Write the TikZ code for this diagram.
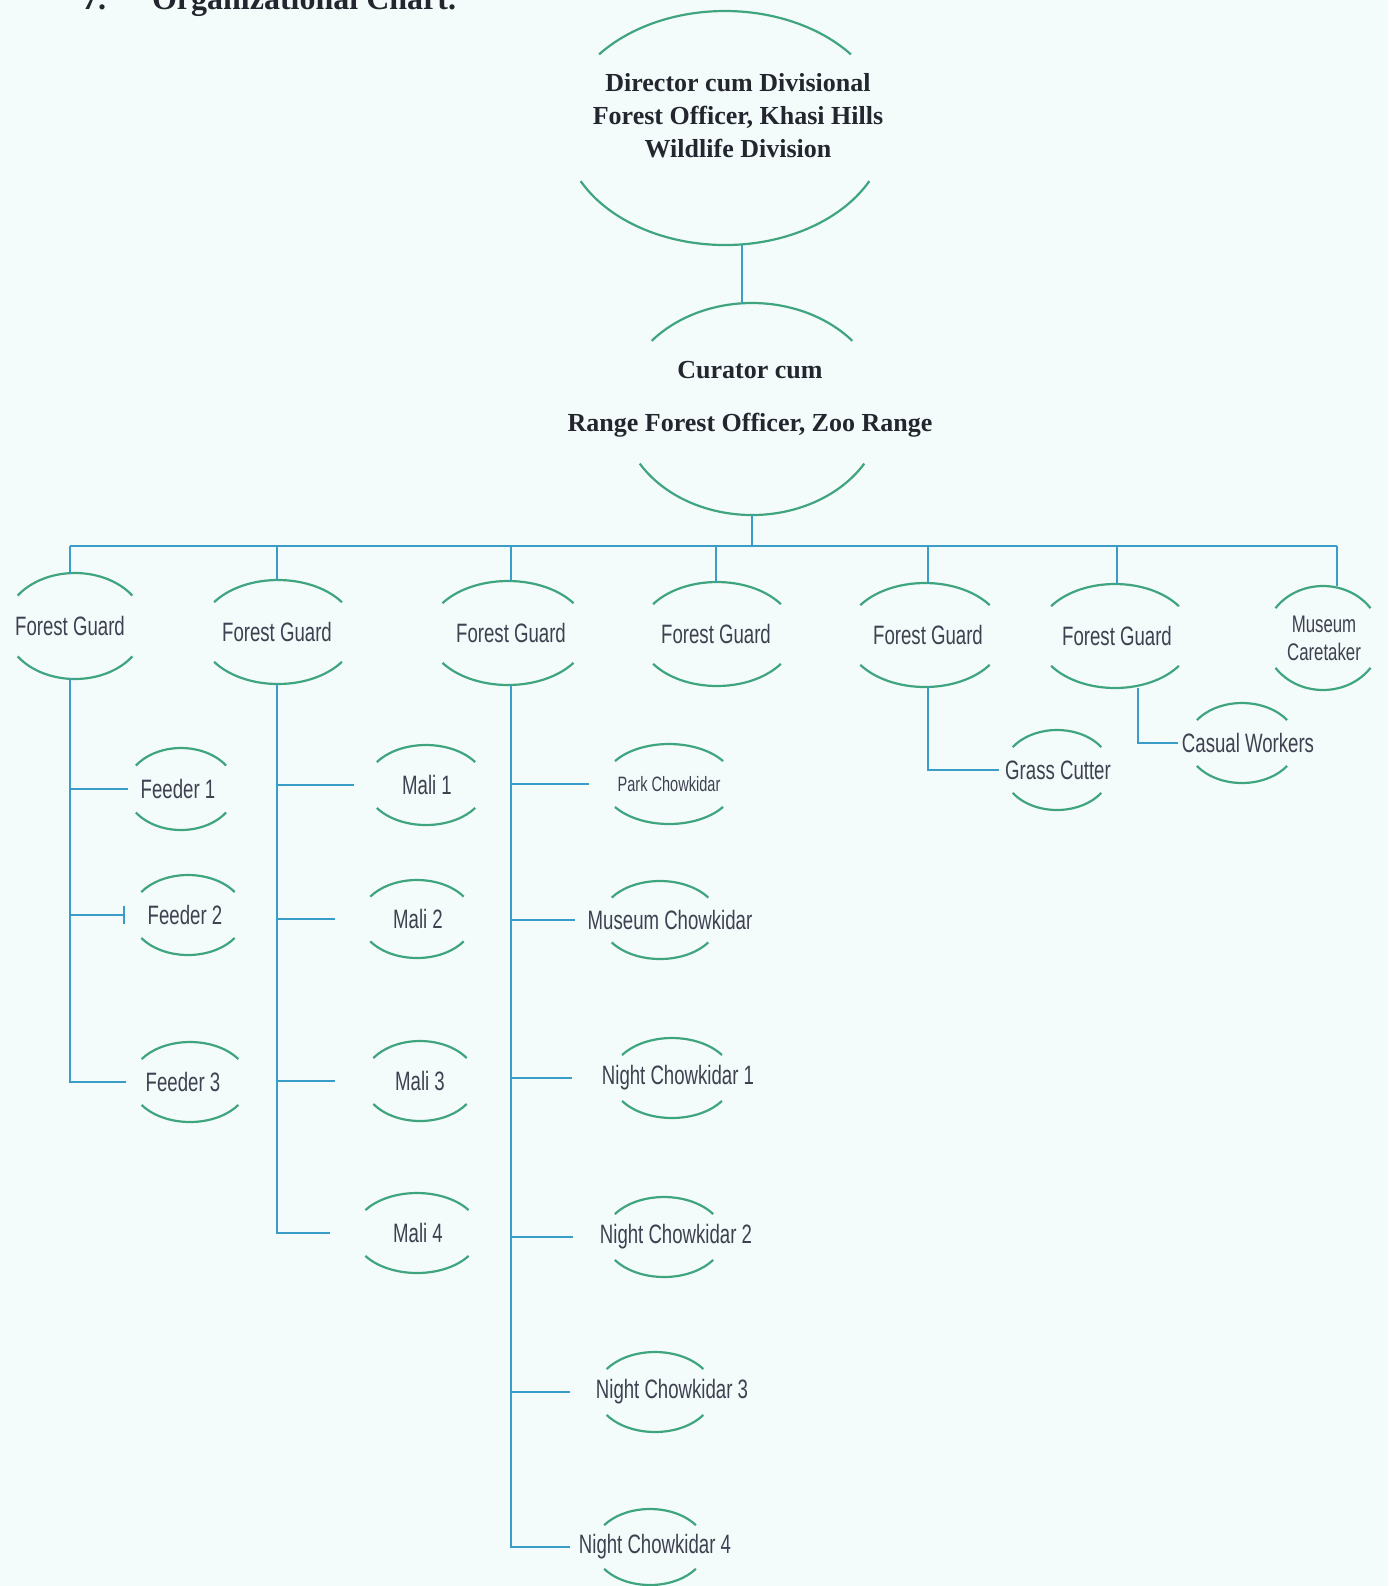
\documentclass[tikz,border=0pt]{standalone}
\usepackage{fontspec}
\setmainfont{Liberation Serif}
\newfontfamily\agency{Liberation Sans}[FakeStretch=0.7]
\usetikzlibrary{arrows.meta}
\definecolor{paper}{HTML}{F4FBFB}
\definecolor{wire}{HTML}{3A9DC8}
\definecolor{rim}{HTML}{3FA57E}
\definecolor{ink}{HTML}{3E4250}
\definecolor{boss}{HTML}{23262F}
\tikzset{
  link/.style={draw=wire, line width=1pt},
  rimline/.style={draw=rim, line width=1.1pt},
  post/.style={inner sep=0pt, minimum height=40pt, text=ink,
    font=\agency\fontsize{13.3}{16}\selectfont},
  guard/.style={post, minimum width=78pt, minimum height=52pt},
  chief/.style={align=center, text=boss, font=\bfseries\fontsize{13}{16.5}\selectfont},
  heading/.style={anchor=base west, text=boss, font=\bfseries\fontsize{16}{19}\selectfont}
}
\begin{document}
\begin{tikzpicture}[x=0.5pt, y=0.5pt]
  \useasboundingbox (0,0) rectangle (1388,-1586);
  \fill[paper] (0,0) rectangle (1388,-1586);
  \path
    (75,-9) node[heading] (num){7.}
    (145,-9) node[heading] (title){Organizational Chart.}
    (725,-128) node[minimum width=162pt, minimum height=117pt,
      label={[chief, xshift=6.5pt, yshift=6pt]center:{Director cum Divisional\\Forest Officer, Khasi Hills\\Wildlife Division}}] (dir){}
    (752,-409) node[minimum width=131pt, minimum height=106pt,
      label={[chief, xshift=-1pt, yshift=5pt]center:{Curator cum\\[10pt]Range Forest Officer, Zoo Range}}] (cur){}
    (70,-626) node[guard] (fg1){Forest Guard}
    (277,-632) node[guard] (fg2){Forest Guard}
    (511,-633) node[guard] (fg3){Forest Guard}
    (716,-634) node[guard] (fg4){Forest Guard}
    (928,-635) node[guard] (fg5){Forest Guard}
    (1117,-636) node[guard] (fg6){Forest Guard}
    (1324,-638) node[guard, align=center, font=\agency\fontsize{12}{14}\selectfont] (mc){Museum\\Caretaker}
    (178,-789) node[post, minimum width=50pt] (f1){Feeder 1}
    (185,-915) node[post, minimum width=60pt] (f2){Feeder 2}
    (183,-1082) node[post, minimum width=57pt] (f3){Feeder 3}
    (427,-785) node[post, minimum width=73pt] (m1){Mali 1}
    (418,-919) node[post, minimum width=83pt] (m2){Mali 2}
    (420,-1081) node[post, minimum width=85pt] (m3){Mali 3}
    (418,-1233) node[post, minimum width=88pt] (m4){Mali 4}
    (669,-784) node[post, minimum width=80pt, font=\agency\fontsize{10.4}{12}\selectfont] (pc){Park Chowkidar}
    (670,-920) node[post, minimum width=95pt] (muc){Museum Chowkidar}
    (678,-1078) node[post, minimum width=106pt] (nc1){Night Chowkidar 1}
    (676,-1237) node[post, minimum width=103pt] (nc2){Night Chowkidar 2}
    (672,-1392) node[post, minimum width=102pt] (nc3){Night Chowkidar 3}
    (655,-1547) node[post, minimum width=85pt] (nc4){Night Chowkidar 4}
    (1058,-770) node[post, minimum width=59pt] (gc){Grass Cutter}
    (1248,-743) node[post, minimum width=70pt] (cw){Casual Workers};
  \foreach \n/\dx/\rx/\ry/\t/\b in {dir/0/162/117/39/207, cur/0/131/106/40/211,
      fg1/5/70/53/35/215, fg2/1/78/52/35/215, fg3/-3/80/52/35/215, fg4/1/78/52/35/215,
      fg5/-3/79/52/35/215, fg6/-2/78/52/35/215, mc/-1/58/52/35/215,
      f1/3/55/41/35/215, f2/3/57/40/35/215, f3/7/59/40/35/215,
      m1/-1/60/40/35/215, m2/-1/57/39/35/215, m3/0/57/40/35/215, m4/-1/63/40/35/215,
      pc/0/66/40/35/215, muc/-10/59/39/35/215, nc1/-6/61/40/35/215, nc2/-12/60/40/35/215,
      nc3/-17/59/40/35/215, nc4/-5/56/38/35/215, gc/-1/54/40/35/215, cw/-6/55/40/35/215}
    \draw[rimline] (\n.center) ++(\dx,0) ++(\t:{\rx} and {\ry}) arc[start angle=\t, end angle={180-\t}, x radius=\rx, y radius=\ry]
      (\n.center) ++(\dx,0) ++(\b:{\rx} and {\ry}) arc[start angle=\b, end angle={540-\b}, x radius=\rx, y radius=\ry];
  \coordinate (bus) at (0,-546);
  \coordinate (mctop) at ([xshift=6.5pt]mc.north);
  \begin{scope}[link]
    \draw (dir.-82) -- (dir.-82 |- cur.north);
    \draw (cur.south) -- (cur.south |- bus);
    \draw (bus -| fg1.north) -- (bus -| mctop);
    \draw (bus -| fg1.north) -- (fg1.north);
    \draw (bus -| fg2.north) -- (fg2.north);
    \draw (bus -| fg3.north) -- (fg3.north);
    \draw (bus -| fg4.north) -- (fg4.north);
    \draw (bus -| fg5.north) -- (fg5.north);
    \draw (bus -| fg6.north) -- (fg6.north);
    \draw (bus -| mctop) -- (mctop);
    \draw (fg1.south) |- (f3.west);
    \draw (fg1.south |- f1.west) -- (f1.west);
    \draw[-{Bar[width=9pt]}] (fg1.south |- f2.west) -- (f2.west);
    \draw (fg2.south) |- (m4.west);
    \draw (fg2.south |- m1.west) -- (m1.west);
    \draw (fg2.south |- m2.west) -- (m2.west);
    \draw (fg2.south |- m3.west) -- (m3.west);
    \draw (fg3.south) |- (nc4.west);
    \draw (fg3.south |- pc.west) -- (pc.west);
    \draw (fg3.south |- muc.west) -- (muc.west);
    \draw (fg3.south |- nc1.west) -- (nc1.west);
    \draw (fg3.south |- nc2.west) -- (nc2.west);
    \draw (fg3.south |- nc3.west) -- (nc3.west);
    \draw (fg5.south) |- (gc.west);
    \draw (fg6.-68) |- (cw.west);
  \end{scope}
\end{tikzpicture}
\end{document}
